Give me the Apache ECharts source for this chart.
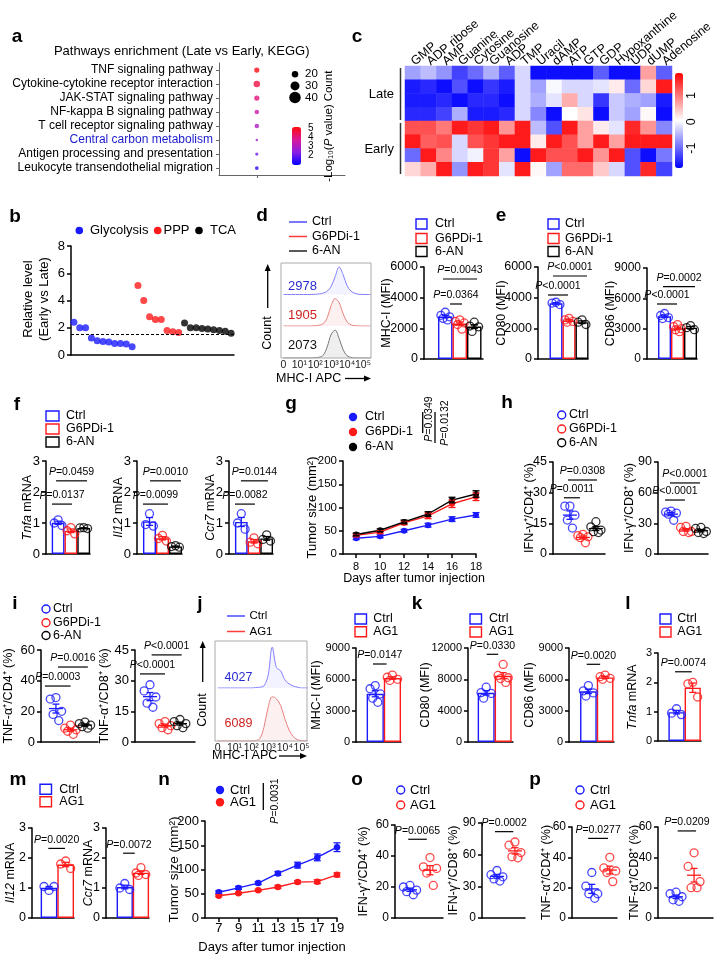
<!DOCTYPE html>
<html><head><meta charset="utf-8"><title>Figure</title>
<script src="https://cdn.jsdelivr.net/npm/echarts@6.0.0/dist/echarts.min.js"></script>
<style>html,body{margin:0;padding:0;background:#fff;}#chart{width:720px;height:965px;}</style>
</head><body><div id="chart"></div>
<script>
// ================= DATA =================
const groups3 = ['Ctrl', 'G6PDi-1', '6-AN'];
const groups2 = ['Ctrl', 'AG1'];
// a
const aPathways = ['TNF signaling pathway','Cytokine-cytokine receptor interaction','JAK-STAT signaling pathway','NF-kappa B signaling pathway','T cell receptor signaling pathway','Central carbon metabolism','Antigen processing and presentation','Leukocyte transendothelial migration'];
const aCount = [15, 20, 15, 12, 12, 4, 7, 9];
const aLogP = [5.0, 4.5, 4.0, 3.3, 2.9, 2.7, 2.0, 1.2];
const aX = 0.3;
const aCountLegend = [20, 30, 40];
const aColorTicks = [5, 4, 3, 2];
// b
const bGlycolysis = [2.4, 2.0, 2.0, 1.25, 1.05, 1.0, 0.95, 0.85, 0.85, 0.8, 0.6];
const bPPP = [5.1, 4.0, 2.8, 2.6, 2.6, 1.8, 1.7, 1.65];
const bTCA = [2.35, 2.0, 2.0, 1.95, 1.9, 1.85, 1.8, 1.75, 1.6];
const bThreshold = 1.5;
// c
const cMetabolites = ['GMP','ADP ribose','AMP','Guanine','Cytosine','Guanosine','ADP','TMP','Uracil','dAMP','ATP','GTP','GDP','Hypoxanthine','UDP','dUMP','Adenosine'];
const cGroups = ['Late', 'Early'];
const cLate1  = [-0.7,-0.5,-0.8,-1.4,-1.1,-0.6,-1.2,-0.3,-1.8,-1.8,-1.8,-1.8,-1.2,-1.8,-1.8,0.7,-1.2];
const cLate2  = [-1.7,-1.6,-1.8,-1.3,-1.8,-1.5,-1.7,-0.3,-0.7,-0.05,-0.3,-0.3,-0.2,0.15,-1.1,0.3,1.7];
const cLate3  = [-1.7,-1.7,-1.6,-1.8,-1.6,-1.6,-1.8,-0.3,-0.6,-0.2,0.6,-0.3,-1.5,-0.4,-0.6,-0.7,-1.7];
const cLate4  = [-1.6,-1.6,-1.4,-0.6,-1.7,-1.7,-1.6,-0.3,-0.9,-1.8,0.0,0.2,-1.8,-0.4,-0.7,0.05,-1.8];
const cEarly1 = [1.3,1.3,1.0,1.7,1.5,1.7,0.8,1.7,-0.5,-1.3,1.7,0.7,0.15,-0.2,1.6,0.8,-0.9];
const cEarly2 = [1.7,1.2,1.3,-0.3,1.3,1.5,1.7,1.7,0.15,1.7,1.3,0.7,1.7,0.7,1.7,1.7,1.7];
const cEarly3 = [-1.1,1.7,0.9,-0.3,-0.1,1.5,0.7,-1.8,1.7,1.3,1.3,1.7,0.8,1.7,-1.3,-1.8,-1.0];
const cEarly4 = [0.3,0.6,1.7,-0.8,1.7,1.5,-0.2,1.7,0.05,-0.7,1.1,1.1,0.4,-0.3,-1.3,1.6,-1.4];
const cRows = [cLate1, cLate2, cLate3, cLate4, cEarly1, cEarly2, cEarly3, cEarly4];
const cColorTicks = [1, 0, -1];
// flow histograms (x in log decades)
const histX = [0,0.25,0.5,0.75,1,1.25,1.5,1.75,2,2.25,2.5,2.75,3,3.25,3.5,3.75,4,4.25,4.5,4.75,5,5.25,5.5];
const fcTicks = ['0','10¹','10²','10³','10⁴','10⁵'];
const dHistCtrl  = [0,0,0,0,0,0,0,0,0.01,0.02,0.05,0.12,0.3,0.65,1.0,0.72,0.32,0.12,0.04,0.01,0,0,0];
const dHistG6PDi = [0,0,0,0,0,0,0,0,0.01,0.03,0.08,0.3,0.75,1.0,0.85,0.45,0.15,0.04,0.01,0,0,0,0];
const dHist6AN   = [0,0,0,0,0,0,0,0,0.01,0.03,0.1,0.4,0.85,1.0,0.7,0.3,0.08,0.02,0,0,0,0,0];
const dHistMFI = ['2978', '1905', '2073'];
const jHistCtrl = [0,0,0,0,0,0,0,0,0,0.01,0.02,0.05,0.3,1.0,0.5,0.42,0.2,0.1,0.05,0.02,0,0,0];
const jHistAG1  = [0,0,0,0,0,0,0,0,0,0.01,0.05,0.3,0.75,1.0,0.95,0.8,0.5,0.25,0.1,0.03,0.01,0,0];
const jHistMFI = ['4027', '6089'];
// d, e (MFI)
const dMHCI = [[3050,2850,2750,2650,2550],[2550,2450,2350,2250,1950],[2400,2150,2100,1800]];
const eCD80 = [[3700,3650,3550],[2650,2550,2450,2400],[2550,2400,2250]];
const eCD86 = [[4500,4300,4100,4000],[3400,3200,3000,2900,2700],[3300,3100,2900]];
// f (mRNA)
const fTnfa = [[1.1,1.0,0.92],[0.85,0.75,0.65],[0.85,0.84,0.82]];
const fIl12 = [[1.3,0.95,0.9],[0.6,0.5,0.42],[0.27,0.24,0.22]];
const fCcr7 = [[1.3,1.0,0.8],[0.52,0.38,0.33],[0.62,0.47,0.42]];
// g tumor growth
const gDays = [8,10,12,14,16,18];
const gCtrl = [34,38,50,62,75,84];       const gCtrlErr = [3,3,3,4,5,5];
const gG6PDi = [40,47,67,82,108,123];    const gG6PDiErr = [3,3,4,6,8,8];
const g6AN = [42,51,69,86,116,129];      const g6ANErr = [3,3,4,5,6,7];
// h, i (%)
const hIFNgCD4 = [[23.4,23.4,19,16.6,12.7],[9.6,9,8.4,8,5.5],[15.8,13.3,11.7,10.9,10.5]];
const hIFNgCD8 = [[42,41,40,39,33],[27,26,22,22,21],[26,25,22,21,20]];
const iTNFaCD4 = [[29,28,20,18,14],[11,9,8,7,5],[13,12,11,10,9]];
const iTNFaCD8 = [[28,25,22,19,17],[10,9,8,7,6],[11,10,9,8,7]];
// j, k, l
const jMHCI = [[5400,5100,4600,4200,3800],[6400,6200,6000,5900]];
const kCD80 = [[7000,6300,6200,5600],[9900,8500,8200,8100,7600]];
const kCD86 = [[5400,4900,4700,4400],[6400,6250,6100,6000]];
const lTnfa = [[1.1,0.95,0.9],[2.0,1.95,1.5]];
// m
const mIl12 = [[0.92,1.05,1.05],[1.9,1.8,1.65]];
const mCcr7 = [[1.15,1.0,0.95],[1.68,1.5,1.45,1.42]];
// n
const nDays = [7,9,11,13,15,17,19];
const nCtrl = [53,62,72,92,109,125,146]; const nCtrlErr = [3,3,3,4,6,7,9];
const nAG1 = [46,51,57,64,74,75,89];     const nAG1Err = [2,2,2,3,3,4,4];
// o, p
const oIFNgCD4 = [[21,20,18,17,15],[39,33,32,29,21]];
const oIFNgCD8 = [[45,41,39,37,35],[72,69,62,58,57]];
const pTNFaCD4 = [[30,21,16,16,13],[40,33,31,30,24]];
const pTNFaCD8 = [[17,16,14,12,11],[43,34,24,20,20]];
// P values
const dP = ['=0.0043','=0.0364']; const eCD80P = ['<0.0001','<0.0001']; const eCD86P = ['=0.0002','<0.0001'];
const fTnfaP = ['=0.0459','=0.0137']; const fIl12P = ['=0.0010','=0.0099']; const fCcr7P = ['=0.0144','=0.0082'];
const gP = ['=0.0349','=0.0132'];
const hCD4P = ['=0.0308','=0.0011']; const hCD8P = ['<0.0001','<0.0001'];
const iCD4P = ['=0.0016','=0.0003']; const iCD8P = ['<0.0001','<0.0001'];
const jP = ['=0.0147']; const kCD80P = ['=0.0330']; const kCD86P = ['=0.0020']; const lP = ['=0.0074'];
const mIl12P = ['=0.0020']; const mCcr7P = ['=0.0072']; const nP = ['=0.0031'];
const oCD4P = ['=0.0065']; const oCD8P = ['=0.0002']; const pCD4P = ['=0.0277']; const pCD8P = ['=0.0209'];

// ================= STYLE / HELPERS =================
const F = "'Liberation Sans', Arial, Helvetica, sans-serif";
const BLUE = '#1a1aff', RED = '#ff1a1a', BLACK = '#000000';
const C3 = [BLUE, RED, BLACK], C2 = [BLUE, RED];
const JIT = [0, -0.3, 0.3, -0.15, 0.15];
const AXW = 1.5;
const option = {animation:false, backgroundColor:'#ffffff', textStyle:{fontFamily:F},
  grid:[], xAxis:[], yAxis:[], series:[], visualMap:[], graphic:{elements:[]}};
const G = option.graphic.elements;
const RICH = (fs) => ({i:{fontStyle:'italic', fontSize:fs, fontFamily:F, fill:'#000'}});
function T(x, y, text, o = {}) {
  G.push({type:'text', x, y, rotation:o.rot || 0, silent:true, z:20,
    style:{text, fill:o.color || '#000', fontSize:o.fs || 12, fontFamily:F,
      fontWeight:o.bold ? 'bold' : 'normal', fontStyle:o.italic ? 'italic' : 'normal',
      align:o.align || 'left', verticalAlign:o.va || 'middle', rich:RICH(o.fs || 12)}});
}
function L(x1, y1, x2, y2, o = {}) {
  G.push({type:'line', silent:true, z:20, shape:{x1, y1, x2, y2},
    style:{stroke:o.color || '#000', lineWidth:o.lw || 1.2, lineDash:o.dash || null}});
}
function R(x, y, w, h, o = {}) {
  G.push({type:'rect', silent:true, z:20, shape:{x, y, width:w, height:h},
    style:{stroke:o.stroke || '#000', fill:o.fill || 'none', lineWidth:o.lw || 1.3}});
}
function Cc(cx, cy, r, o = {}) {
  G.push({type:'circle', silent:true, z:20, shape:{cx, cy, r},
    style:{stroke:o.stroke || null, fill:o.fill || 'none', lineWidth:o.lw || 1.3}});
}
function arrowUp(x, yFrom, yTip) {
  L(x, yFrom, x, yTip + 5, {lw:1.3});
  G.push({type:'polygon', silent:true, z:20, shape:{points:[[x, yTip], [x - 3, yTip + 7], [x + 3, yTip + 7]]}, style:{fill:'#000'}});
}
function arrowRight(xFrom, xTip, y) {
  L(xFrom, y, xTip - 5, y, {lw:1.3});
  G.push({type:'polygon', silent:true, z:20, shape:{points:[[xTip, y], [xTip - 7, y - 3], [xTip - 7, y + 3]]}, style:{fill:'#000'}});
}
function legBox(x, ys, labels, colors, tx, fs, w) {
  labels.forEach((lb, i) => { R(x, ys[i] - 5, w || 11, 10, {stroke:colors[i], lw:1.4}); T(tx, ys[i], lb, {fs}); });
}
function legLine(x1, x2, ys, labels, colors, tx, fs) {
  labels.forEach((lb, i) => { L(x1, ys[i], x2, ys[i], {color:colors[i], lw:1.5}); T(tx, ys[i], lb, {fs}); });
}
function legCirc(cx, ys, labels, colors, tx, fs, filled) {
  labels.forEach((lb, i) => {
    if (filled) Cc(cx, ys[i], 4.2, {fill:colors[i]}); else Cc(cx, ys[i], 4, {stroke:colors[i], lw:1.4});
    T(tx, ys[i], lb, {fs});
  });
}
function mean(a) { return a.reduce((s, v) => s + v, 0) / a.length; }
function sem(a) { const m = mean(a); return Math.sqrt(a.reduce((s, v) => s + (v - m) * (v - m), 0) / (a.length - 1)) / Math.sqrt(a.length); }
function addGrid(left, top, width, height) { option.grid.push({left, top, width, height}); return option.grid.length - 1; }
function yVal(gi, max, interval, fs) {
  return {type:'value', gridIndex:gi, min:0, max, interval,
    axisLine:{show:true, onZero:false, lineStyle:{color:'#000', width:AXW}},
    axisTick:{show:true, length:4, lineStyle:{color:'#000', width:AXW}},
    axisLabel:{show:true, color:'#000', fontSize:fs || 12, fontFamily:F, margin:6, formatter:(v) => String(v)},
    splitLine:{show:false}};
}
function xPlain(gi, min, max) {
  return {type:'value', gridIndex:gi, min, max,
    axisLine:{show:true, onZero:false, lineStyle:{color:'#000', width:AXW}},
    axisTick:{show:false}, axisLabel:{show:false}, splitLine:{show:false}};
}
function errRender(colors, isBar) {
  return function (params, api) {
    const x = api.value(0), m = api.value(1), s = api.value(2), c = colors[api.value(3)];
    const pm = api.coord([x, m]), pt = api.coord([x, m + s]), pb = api.coord([x, m - s]);
    const st = {stroke:c, lineWidth:1.3, fill:null};
    const ch = [
      {type:'line', shape:{x1:pm[0], y1:pt[1], x2:pm[0], y2:pb[1]}, style:st},
      {type:'line', shape:{x1:pm[0] - 3.5, y1:pt[1], x2:pm[0] + 3.5, y2:pt[1]}, style:st},
      {type:'line', shape:{x1:pm[0] - 3.5, y1:pb[1], x2:pm[0] + 3.5, y2:pb[1]}, style:st}];
    if (!isBar) ch.push({type:'line', shape:{x1:pm[0] - 7, y1:pm[1], x2:pm[0] + 7, y2:pm[1]}, style:st});
    return {type:'group', children:ch};
  };
}
function bracketRender(pv) {
  return function (params, api) {
    const a = api.coord([api.value(0), api.value(2)]), b = api.coord([api.value(1), api.value(2)]);
    return {type:'group', children:[
      {type:'line', shape:{x1:a[0], y1:a[1], x2:b[0], y2:a[1]}, style:{stroke:'#000', lineWidth:1.2}},
      {type:'text', x:(a[0] + b[0]) / 2, y:a[1] - 3,
        style:{text:'{i|P}' + pv[params.dataIndex], fontSize:10.5, fontFamily:F, fill:'#000', align:'center', verticalAlign:'bottom', rich:RICH(10.5)}}]};
  };
}
function groupPanel(p) {
  const gi = addGrid(p.x0, p.top, p.x1 - p.x0, p.bottom - p.top);
  option.xAxis.push(xPlain(gi, p.xmin, p.xmax));
  option.yAxis.push(yVal(gi, p.ymax, p.yint, p.fs));
  const stats = p.data.map(v => [mean(v), sem(v)]);
  if (p.bars) {
    option.series.push({type:'bar', xAxisIndex:gi, yAxisIndex:gi, barWidth:p.bw, silent:true, z:2,
      data:stats.map((s, k) => ({value:[k, s[0]], itemStyle:{color:'rgba(255,255,255,0)', borderColor:p.colors[k], borderWidth:1.4}}))});
  }
  option.series.push({type:'custom', xAxisIndex:gi, yAxisIndex:gi, silent:true, z:3,
    data:stats.map((s, k) => [k, s[0], s[1], k]), renderItem:errRender(p.colors, p.bars)});
  const pts = [];
  p.data.forEach((vals, k) => vals.forEach((v, i) => pts.push({value:[k + JIT[i] * (p.jw || 1), v], itemStyle:{borderColor:p.colors[k]}})));
  option.series.push({type:'scatter', xAxisIndex:gi, yAxisIndex:gi, silent:true, z:4, symbol:'circle', symbolSize:8,
    itemStyle:{color:'rgba(0,0,0,0)', borderWidth:1.3}, data:pts});
  option.series.push({type:'custom', xAxisIndex:gi, yAxisIndex:gi, silent:true, z:5,
    data:p.br, renderItem:bracketRender(p.pv)});
  T(p.titleX, (p.top + p.bottom) / 2, p.title, {rot:Math.PI / 2, align:'center', fs:p.tfs || 12.5});
}
function histPanel(left, top, width, height, xmin, xmax, vals, lc, fc, showLabels) {
  const gi = addGrid(left, top, width, height);
  option.xAxis.push({type:'value', gridIndex:gi, min:xmin, max:xmax, axisLine:{show:false}, axisTick:{show:false},
    splitLine:{show:false},
    axisLabel:{show:!!showLabels, customValues:[0,1,2,3,4,5], formatter:(v) => fcTicks[Math.round(v)], fontSize:10.5, color:'#222', margin:2}});
  option.yAxis.push({type:'value', gridIndex:gi, min:0, max:1.15, show:false});
  option.series.push({type:'line', xAxisIndex:gi, yAxisIndex:gi, silent:true, smooth:0.35, symbol:'none',
    lineStyle:{color:lc, width:1}, areaStyle:{color:fc}, data:histX.map((x, i) => [x, vals[i]])});
}
function tumorPanel(p) {
  const gi = addGrid(p.x0, p.top, p.x1 - p.x0, p.bottom - p.top);
  option.xAxis.push({type:'value', gridIndex:gi, min:p.xmin, max:p.xmax,
    axisLine:{show:true, onZero:false, lineStyle:{color:'#000', width:AXW}},
    axisTick:{show:true, customValues:p.days, length:4, lineStyle:{color:'#000', width:AXW}},
    axisLabel:{show:true, customValues:p.days, fontSize:p.xfs, color:'#000', margin:p.xm},
    splitLine:{show:false}});
  option.yAxis.push(yVal(gi, 200, 50, p.fs));
  p.series.forEach((s, k) => {
    option.series.push({type:'line', xAxisIndex:gi, yAxisIndex:gi, silent:true, z:3, symbol:'circle', symbolSize:p.ss,
      lineStyle:{color:s.color, width:1.4}, itemStyle:{color:s.color}, data:p.days.map((d, i) => [d, s.vals[i]])});
    option.series.push({type:'custom', xAxisIndex:gi, yAxisIndex:gi, silent:true, z:4,
      data:p.days.map((d, i) => [d, s.vals[i], s.err[i], 0]), renderItem:errRender([s.color], true)});
  });
  T(p.titleX, (p.top + p.bottom) / 2, 'Tumor size (mm²)', {rot:Math.PI / 2, align:'center', fs:p.tfs});
}

// ================= PANEL LABELS =================
[['a',17,37],['b',15,217],['c',357,37],['d',262,216],['e',501,216],['f',17,405],['g',291,404],['h',507,403],
 ['i',15,604],['j',200,604],['k',417,604],['l',628,604],['m',18,780],['n',164,780],['o',357,780],['p',535,780]]
 .forEach(l => T(l[1], l[2], l[0], {bold:true, fs:19, align:'center'}));

// ================= PANEL a =================
T(181.7, 51.5, 'Pathways enrichment (Late vs Early, KEGG)', {fs:13, align:'center'});
const aSize = (c) => 1.5 + c / 4;
{
  const gi = addGrid(219, 63, 126, 112);
  option.xAxis.push({type:'value', gridIndex:gi, min:0, max:1,
    axisLine:{show:true, onZero:false, lineStyle:{color:'#666', width:1}},
    axisTick:{show:true, customValues:[aX], length:3, lineStyle:{color:'#666'}}, axisLabel:{show:false}, splitLine:{show:false}});
  option.yAxis.push({type:'category', gridIndex:gi, inverse:true, data:aPathways,
    axisLine:{show:true, onZero:false, lineStyle:{color:'#666', width:1}},
    axisTick:{show:true, length:3, alignWithLabel:true, interval:0, lineStyle:{color:'#666'}},
    axisLabel:{color:'#000', fontSize:12, margin:6, fontFamily:F, interval:0,
      formatter:(v) => v === 'Central carbon metabolism' ? '{b|' + v + '}' : v,
      rich:{b:{color:'#1a1acc', fontSize:12, fontFamily:F}}}});
  option.series.push({type:'scatter', xAxisIndex:gi, yAxisIndex:gi, silent:true,
    data:aPathways.map((p, i) => [aX, i, aCount[i], aLogP[i]]), symbolSize:(v) => aSize(v[2])});
  option.visualMap.push({type:'continuous', seriesIndex:option.series.length - 1, dimension:3, min:0.8, max:5.1,
    inRange:{color:['#0000ff', '#8a1ee6', '#d9179a', '#ff0a0a']}, show:true, calculable:false, left:292, top:127,
    itemWidth:9, itemHeight:38, padding:0, orient:'vertical', hoverLink:false, text:null});
}
aCountLegend.forEach((c, i) => { Cc(295, 74.3 + i * 11.6, aSize(c) / 2, {fill:'#000'}); T(305, 74.3 + i * 11.6, String(c), {fs:11.5}); });
T(329, 86, 'Count', {rot:Math.PI / 2, align:'center', fs:11.5});
aColorTicks.forEach((t, i) => T(308, 128.5 + i * 8.9, String(t), {fs:10}));
T(329, 143, '-Log₁₀({i|P} value)', {rot:Math.PI / 2, align:'center', fs:11.5});

// ================= PANEL b =================
Cc(79.3, 230.5, 3.8, {fill:BLUE}); T(90, 230.5, 'Glycolysis', {fs:13});
Cc(157.7, 230.5, 3.8, {fill:RED}); T(163.5, 230.5, 'PPP', {fs:13});
Cc(199, 230.5, 3.8, {fill:BLACK}); T(210, 230.5, 'TCA', {fs:13});
T(28, 299, 'Relative level', {rot:Math.PI / 2, align:'center', fs:13});
T(44.5, 299, '(Early vs Late)', {rot:Math.PI / 2, align:'center', fs:13});
{
  const gi = addGrid(71, 246, 163, 109);
  const nAll = bGlycolysis.length + bPPP.length + bTCA.length;
  option.xAxis.push({type:'category', gridIndex:gi, data:Array.from({length:nAll}, (_, i) => String(i + 1)),
    axisLine:{show:true, onZero:false, lineStyle:{color:'#000', width:AXW}}, axisTick:{show:false}, axisLabel:{show:false}});
  option.yAxis.push(yVal(gi, 8, 2, 13));
  const sets = [[bGlycolysis, BLUE, 0], [bPPP, RED, bGlycolysis.length], [bTCA, BLACK, bGlycolysis.length + bPPP.length]];
  sets.forEach((s, k) => {
    const ser = {type:'scatter', xAxisIndex:gi, yAxisIndex:gi, silent:true, symbolSize:7, itemStyle:{color:s[1]},
      data:s[0].map((v, i) => [s[2] + i, v])};
    if (k === 0) ser.markLine = {silent:true, symbol:'none', label:{show:false}, animation:false,
      lineStyle:{type:[3, 2], color:'#000', width:1}, data:[{yAxis:bThreshold}]};
    option.series.push(ser);
  });
}

// ================= PANEL c =================
{
  const gi = addGrid(405, 66, 267, 110);
  option.xAxis.push({type:'category', gridIndex:gi, data:cMetabolites, position:'top',
    axisLine:{show:false}, axisTick:{show:false}, splitLine:{show:false},
    axisLabel:{rotate:-40, interval:0, margin:3, fontSize:12.5, color:'#000', fontFamily:F}});
  option.yAxis.push({type:'category', gridIndex:gi, inverse:true, data:cRows.map((r, i) => 'r' + i), show:false});
  const hd = [];
  cRows.forEach((row, r) => row.forEach((v, c) => hd.push([c, r, v])));
  option.series.push({type:'heatmap', xAxisIndex:gi, yAxisIndex:gi, silent:true, data:hd, itemStyle:{borderWidth:0}});
  option.visualMap.push({type:'continuous', seriesIndex:option.series.length - 1, dimension:2, min:-1.9, max:1.9,
    inRange:{color:['#0000ff', '#ffffff', '#ff0000']}, show:true, calculable:false, left:675, top:73,
    itemWidth:8, itemHeight:95, padding:0, orient:'vertical', hoverLink:false, text:null});
}
T(394, 94, cGroups[0], {fs:13, align:'right'});
T(394, 149, cGroups[1], {fs:13, align:'right'});
L(400.5, 68, 400.5, 120, {lw:1.5, color:'#333'});
L(400.5, 123, 400.5, 174, {lw:1.5, color:'#333'});
cColorTicks.forEach((t, i) => T(692, 95.5 + i * 26.3, String(t), {rot:Math.PI / 2, align:'center', fs:12.5}));

// ================= PANEL d =================
legLine(289, 307, [222, 236.5, 251], groups3, ['#4a4aff', '#ff3a3a', '#222'], 312, 12.5);
histPanel(281, 263, 90, 31.5, -0.15, 5.5, dHistCtrl, '#8080ff', 'rgba(80,80,255,0.10)', false);
histPanel(281, 294.5, 90, 31.5, -0.15, 5.5, dHistG6PDi, '#e88080', 'rgba(235,90,90,0.13)', false);
histPanel(281, 326, 90, 32, -0.15, 5.5, dHist6AN, '#777777', 'rgba(0,0,0,0.09)', true);
R(281, 263, 90, 95, {stroke:'#aaaaaa', lw:1});
T(302.5, 286, dHistMFI[0], {fs:13, align:'center', color:'#2a2ad0'});
T(302.5, 315.5, dHistMFI[1], {fs:13, align:'center', color:'#cc1f1f'});
T(302.5, 345.5, dHistMFI[2], {fs:13, align:'center', color:'#111'});
arrowUp(267.7, 308, 264);
T(267.7, 333, 'Count', {rot:Math.PI / 2, align:'center', fs:12.5});
T(276, 378.5, 'MHC-I APC', {fs:12.5});
arrowRight(345, 371, 378.5);
legBox(416, [224, 238.5, 251.5], groups3, C3, 435, 12.5);
groupPanel({x0:424, x1:483, top:267, bottom:359, xmin:-1.466, xmax:2.603, ymax:6000, yint:2000, fs:12.5,
  data:dMHCI, colors:C3, bars:true, bw:14.5, title:'MHC-I (MFI)', titleX:387,
  br:[[-0.16, 2.19, 5217], [0.33, 1.15, 3587]], pv:dP});

// ================= PANEL e =================
legBox(548, [224, 238.5, 251.5], groups3, C3, 565, 12.5);
groupPanel({x0:538, x1:588, top:267, bottom:359, xmin:-1.385, xmax:2.46, ymax:6000, yint:2000, fs:12.5,
  data:eCD80, colors:C3, bars:true, bw:13, title:'CD80 (MFI)', titleX:502,
  br:[[-0.23, 2.38, 5413], [-0.62, 0.92, 4174]], pv:eCD80P});
groupPanel({x0:647, x1:697, top:268, bottom:359, xmin:-1.35, xmax:2.5, ymax:9000, yint:3000, fs:12,
  data:eCD86, colors:C3, bars:true, bw:13, title:'CD86 (MFI)', titleX:611,
  br:[[-0.12, 2.35, 7150], [-0.58, 0.96, 5440]], pv:eCD86P});

// ================= PANEL f =================
legBox(46, [416, 429, 442], groups3, C3, 66, 12.5, 13);
groupPanel({x0:46, x1:90, top:461, bottom:554, xmin:-0.945, xmax:2.49, ymax:3, yint:1, fs:13,
  data:fTnfa, colors:C3, bars:true, bw:12.8, title:'{i|Tnfa} mRNA', titleX:27.5,
  br:[[-0.16, 2.26, 2.36], [-0.48, 1.09, 1.61]], pv:fTnfaP});
groupPanel({x0:137, x1:182, top:461, bottom:554, xmin:-0.96, xmax:2.5, ymax:3, yint:1, fs:13,
  data:fIl12, colors:C3, bars:true, bw:13, title:'{i|Il12} mRNA', titleX:119,
  br:[[0.04, 2.42, 2.36], [-0.5, 1.42, 1.61]], pv:fIl12P});
groupPanel({x0:229, x1:273, top:461, bottom:554, xmin:-0.97, xmax:2.5, ymax:3, yint:1, fs:13,
  data:fCcr7, colors:C3, bars:true, bw:12.7, title:'{i|Ccr7} mRNA', titleX:211,
  br:[[-0.03, 2.1, 2.36], [-0.5, 1.07, 1.61]], pv:fCcr7P});

// ================= PANEL g =================
legCirc(353, [417, 432, 447], groups3, C3, 365, 12.5, true);
L(422.7, 412, 422.7, 433, {lw:1.3});
T(429, 419, '{i|P}' + gP[0], {rot:Math.PI / 2, align:'center', fs:10.5});
L(435, 412, 435, 443, {lw:1.3});
T(445, 423, '{i|P}' + gP[1], {rot:Math.PI / 2, align:'center', fs:10.5});
tumorPanel({x0:343, x1:476, top:461, bottom:554, xmin:6.9, xmax:18, days:gDays, fs:11.5, xfs:11, xm:7, ss:6,
  titleX:312, tfs:13,
  series:[{vals:gCtrl, err:gCtrlErr, color:BLUE}, {vals:gG6PDi, err:gG6PDiErr, color:RED}, {vals:g6AN, err:g6ANErr, color:BLACK}]});
T(414, 579, 'Days after tumor injection', {fs:12.5, align:'center'});

// ================= PANEL h =================
legCirc(561.7, [415, 429, 442.7], groups3, C3, 569, 12.5, false);
groupPanel({x0:553, x1:605, top:462, bottom:554, xmin:-1.3, xmax:2.7, ymax:45, yint:15, fs:12.5,
  data:hIFNgCD4, colors:C3, bars:false, jw:1.3, title:'IFN-γ⁺/CD4⁺ (%)', titleX:530,
  br:[[-0.15, 2.08, 36.2], [-0.46, 0.77, 27.5]], pv:hCD4P});
groupPanel({x0:658, x1:708, top:462, bottom:554, xmin:-0.87, xmax:2.47, ymax:90, yint:30, fs:12.5,
  data:hIFNgCD8, colors:C3, bars:false, jw:1.2, title:'IFN-γ⁺/CD8⁺ (%)', titleX:630,
  br:[[-0.07, 1.93, 69.5], [-0.4, 0.93, 52.8]], pv:hCD8P});

// ================= PANEL i =================
legCirc(46, [609, 622.7, 635.5], groups3, C3, 53, 12.5, false);
groupPanel({x0:41, x1:98, top:650, bottom:742, xmin:-1.03, xmax:2.9, ymax:60, yint:20, fs:13,
  data:iTNFaCD4, colors:C3, bars:false, jw:1.3, title:'TNF-α⁺/CD4⁺ (%)', titleX:9,
  br:[[0.14, 2.2, 48.9], [-0.76, 1.01, 36.5]], pv:iCD4P});
groupPanel({x0:135, x1:195, top:650, bottom:742, xmin:-1, xmax:3, ymax:45, yint:15, fs:13,
  data:iTNFaCD8, colors:C3, bars:false, jw:1.3, title:'TNF-α⁺/CD8⁺ (%)', titleX:105,
  br:[[0.11, 2.11, 42.6], [-0.67, 1.0, 33.3]], pv:iCD8P});

// ================= PANEL j =================
legLine(227, 245, [616, 631.5], groups2, ['#4a4aff', '#ff3a3a'], 249.5, 11.5);
histPanel(215, 641, 92, 47, -0.16, 5.32, jHistCtrl, '#8080ff', 'rgba(80,80,255,0.10)', false);
histPanel(215, 690, 92, 51, -0.16, 5.32, jHistAG1, '#e88080', 'rgba(235,90,90,0.13)', true);
R(215, 641, 92, 100, {stroke:'#aaaaaa', lw:1});
T(238.5, 678, jHistMFI[0], {fs:12.5, align:'center', color:'#2a2ad0'});
T(238.5, 724, jHistMFI[1], {fs:12.5, align:'center', color:'#cc1f1f'});
arrowUp(202.7, 682, 641);
T(202.7, 710, 'Count', {rot:Math.PI / 2, align:'center', fs:12.5});
T(212, 756, 'MHC-I APC', {fs:12.5});
arrowRight(279, 307, 756);
legBox(355, [619, 631.7], groups2, C2, 373.3, 12.5, 11.5);
groupPanel({x0:356, x1:401, top:648, bottom:742, xmin:-1.12, xmax:1.5, ymax:9000, yint:3000, fs:11,
  data:jMHCI, colors:C2, bars:true, bw:17.2, title:'MHC-I (MFI)', titleX:317,
  br:[[-0.13, 0.66, 7468]], pv:jP});

// ================= PANEL k =================
legBox(470, [619, 632], groups2, C2, 489, 12.5, 11.5);
groupPanel({x0:468, x1:513, top:648, bottom:742, xmin:-1.07, xmax:1.58, ymax:12000, yint:4000, fs:11,
  data:kCD80, colors:C2, bars:true, bw:17, title:'CD80 (MFI)', titleX:426,
  br:[[0.03, 0.71, 11196]], pv:kCD80P});
groupPanel({x0:569, x1:614, top:648, bottom:742, xmin:-1.16, xmax:1.53, ymax:9000, yint:3000, fs:11,
  data:kCD86, colors:C2, bars:true, bw:16.7, title:'CD86 (MFI)', titleX:530,
  br:[[-0.1, 0.7, 7440]], pv:kCD86P});

// ================= PANEL l =================
legBox(660, [619, 632], groups2, C2, 677.3, 12.5, 11);
groupPanel({x0:658, x1:701, top:653, bottom:741, xmin:-1.14, xmax:1.51, ymax:3, yint:1, fs:11,
  data:lTnfa, colors:C2, bars:true, bw:16.2, title:'{i|Tnfa} mRNA', titleX:633,
  br:[[-0.09, 0.94, 2.36]], pv:lP});

// ================= PANEL m =================
legBox(40, [789.3, 801.7], groups2, C2, 59.3, 12.5, 11.5);
groupPanel({x0:32, x1:74, top:828, bottom:918, xmin:-1.02, xmax:1.5, ymax:3, yint:1, fs:12.5,
  data:mIl12, colors:C2, bars:true, bw:16.7, title:'{i|Il12} mRNA', titleX:11,
  br:[[-0.04, 0.96, 2.32]], pv:mIl12P});
groupPanel({x0:106, x1:149, top:828, bottom:918, xmin:-1.16, xmax:1.5, ymax:3, yint:1, fs:12.5,
  data:mCcr7, colors:C2, bars:true, bw:16.3, title:'{i|Ccr7} mRNA', titleX:89,
  br:[[-0.1, 0.62, 2.16]], pv:mCcr7P});

// ================= PANEL n =================
legCirc(220, [790, 802.3], groups2, C2, 230, 13, true);
L(263.3, 783, 263.3, 810, {lw:1.3});
T(275, 801, '{i|P}' + nP[0], {rot:Math.PI / 2, align:'center', fs:10.5});
tumorPanel({x0:205, x1:337, top:821, bottom:918, xmin:5.6, xmax:19, days:nDays, fs:13, xfs:13, xm:4, ss:6.5,
  titleX:174, tfs:13.5,
  series:[{vals:nCtrl, err:nCtrlErr, color:BLUE}, {vals:nAG1, err:nAG1Err, color:RED}]});
T(272, 947, 'Days after tumor injection', {fs:13, align:'center'});

// ================= PANEL o =================
legCirc(400.7, [790, 805], groups2, C2, 410, 13, false);
groupPanel({x0:395, x1:443, top:825, bottom:918, xmin:-0.75, xmax:1.65, ymax:60, yint:20, fs:12,
  data:oIFNgCD4, colors:C2, bars:false, jw:1.1, title:'IFN-γ⁺/CD4⁺ (%)', titleX:364,
  br:[[-0.09, 0.84, 50.8]], pv:oCD4P});
groupPanel({x0:482, x1:525, top:823, bottom:918, xmin:-0.83, xmax:1.56, ymax:90, yint:30, fs:12,
  data:oIFNgCD8, colors:C2, bars:false, jw:1.1, title:'IFN-γ⁺/CD8⁺ (%)', titleX:454,
  br:[[-0.11, 0.91, 81.8]], pv:oCD8P});

// ================= PANEL p =================
legCirc(580, [790, 805], groups2, C2, 590, 13, false);
groupPanel({x0:572, x1:617, top:827, bottom:918, xmin:-1.1, xmax:1.4, ymax:60, yint:20, fs:12,
  data:pTNFaCD4, colors:C2, bars:false, jw:1.1, title:'TNF-α⁺/CD4⁺ (%)', titleX:547,
  br:[[-0.2, 0.9, 52.5]], pv:pCD4P});
groupPanel({x0:658, x1:713, top:827, bottom:918, xmin:-1, xmax:2.05, ymax:60, yint:20, fs:12,
  data:pTNFaCD8, colors:C2, bars:false, jw:1.1, title:'TNF-α⁺/CD8⁺ (%)', titleX:635,
  br:[[0.09, 1.11, 57.4]], pv:pCD8P});

const chart = echarts.init(document.getElementById('chart'), null, {renderer:'canvas'});
chart.setOption(option);
</script>
</body></html>
